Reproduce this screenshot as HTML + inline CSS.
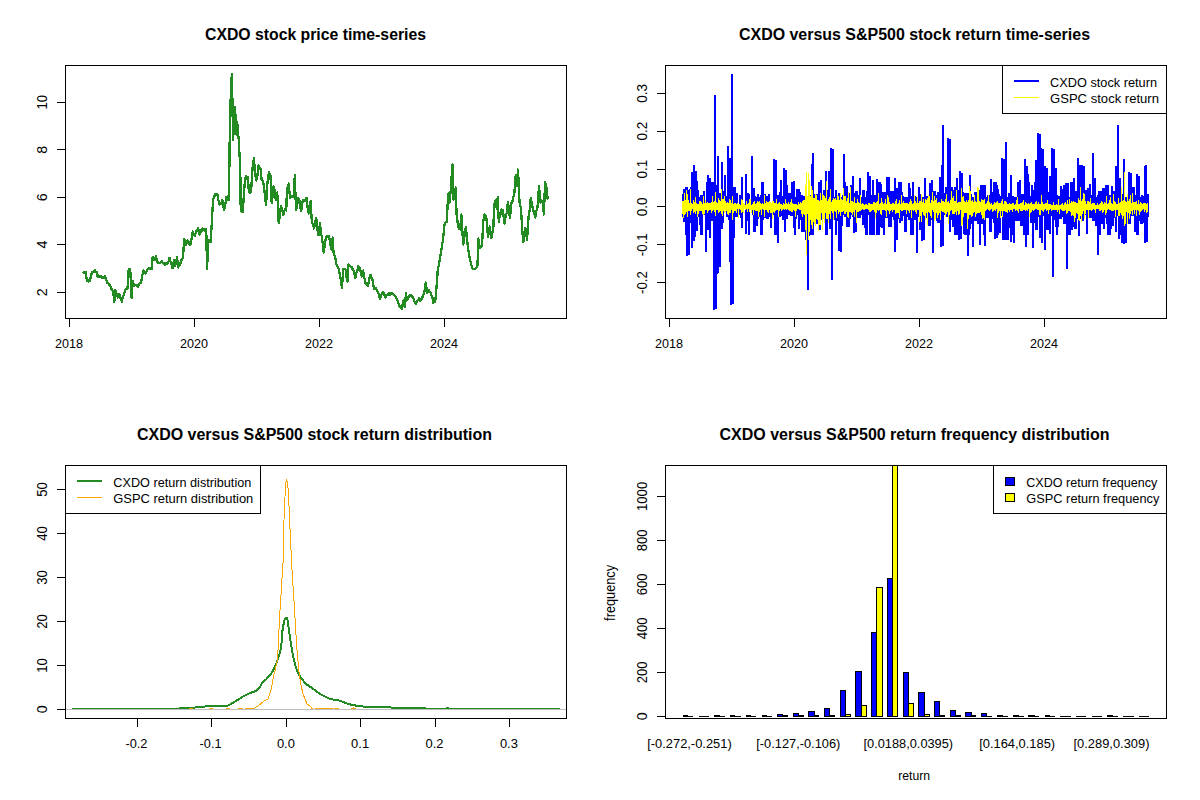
<!DOCTYPE html>
<html><head><meta charset="utf-8"><title>CXDO charts</title>
<style>html,body{margin:0;padding:0;background:#fff;overflow:hidden;}svg{display:block;}text{font-family:"Liberation Sans", sans-serif;}</style></head>
<body>
<svg width="1200" height="800" viewBox="0 0 1200 800" font-family='"Liberation Sans", sans-serif' fill="#000">
<rect width="1200" height="800" fill="#fff"/>
<g>
<rect x="65.5" y="65.5" width="501.0" height="253.0" fill="none" stroke="#000" stroke-width="1" shape-rendering="crispEdges"/>
<text x="315.5" y="39.5" font-size="16" text-anchor="middle" font-weight="bold" textLength="221" lengthAdjust="spacingAndGlyphs">CXDO stock price time-series</text>
<line x1="69" y1="318.5" x2="445" y2="318.5" stroke="#000" stroke-width="1" shape-rendering="crispEdges"/>
<line x1="69.5" y1="318.5" x2="69.5" y2="326.5" stroke="#000" stroke-width="1" shape-rendering="crispEdges"/>
<text x="69" y="348" font-size="13.6" text-anchor="middle" textLength="28" lengthAdjust="spacingAndGlyphs">2018</text>
<line x1="194.5" y1="318.5" x2="194.5" y2="326.5" stroke="#000" stroke-width="1" shape-rendering="crispEdges"/>
<text x="194" y="348" font-size="13.6" text-anchor="middle" textLength="28" lengthAdjust="spacingAndGlyphs">2020</text>
<line x1="319.5" y1="318.5" x2="319.5" y2="326.5" stroke="#000" stroke-width="1" shape-rendering="crispEdges"/>
<text x="319" y="348" font-size="13.6" text-anchor="middle" textLength="28" lengthAdjust="spacingAndGlyphs">2022</text>
<line x1="444.5" y1="318.5" x2="444.5" y2="326.5" stroke="#000" stroke-width="1" shape-rendering="crispEdges"/>
<text x="444" y="348" font-size="13.6" text-anchor="middle" textLength="28" lengthAdjust="spacingAndGlyphs">2024</text>
<line x1="56.9" y1="292.2" x2="65.5" y2="292.2" stroke="#000" stroke-width="1" shape-rendering="crispEdges"/>
<text transform="translate(47.3,292.2) rotate(-90)" font-size="14.3" text-anchor="middle">2</text>
<line x1="56.9" y1="244.5" x2="65.5" y2="244.5" stroke="#000" stroke-width="1" shape-rendering="crispEdges"/>
<text transform="translate(47.3,244.5) rotate(-90)" font-size="14.3" text-anchor="middle">4</text>
<line x1="56.9" y1="197.3" x2="65.5" y2="197.3" stroke="#000" stroke-width="1" shape-rendering="crispEdges"/>
<text transform="translate(47.3,197.3) rotate(-90)" font-size="14.3" text-anchor="middle">6</text>
<line x1="56.9" y1="149.8" x2="65.5" y2="149.8" stroke="#000" stroke-width="1" shape-rendering="crispEdges"/>
<text transform="translate(47.3,149.8) rotate(-90)" font-size="14.3" text-anchor="middle">8</text>
<line x1="56.9" y1="102.2" x2="65.5" y2="102.2" stroke="#000" stroke-width="1" shape-rendering="crispEdges"/>
<text transform="translate(47.3,102.2) rotate(-90)" font-size="14.3" text-anchor="middle" textLength="14.56" lengthAdjust="spacingAndGlyphs">10</text>
<path d="M82.5 271.7 L83.4 271.92 L84.3 273.2 L85.5 272 L87 281 L88 279.95 L89 281.45 L90 281 L91.12 275.22 L92.25 272 L93.15 272.05 L94.05 271.48 L94.95 270.49 L95.85 271.78 L96.75 271.7 L97.5 276.5 L98.4 275.41 L99.3 276.9 L100.2 276.11 L101.1 276.47 L102 278 L103 277.27 L104 277.98 L105 276.5 L106.12 278.75 L107.25 283.25 L108.25 283.17 L109.25 285.13 L110.25 285.5 L111.25 288.84 L112.25 289.73 L113.25 291.5 L114.3 302 L115.5 290 L116.62 293.44 L117.75 297.5 L119.25 293.75 L120.1 297.93 L120.95 297.89 L121.8 302 L123 296 L124.12 294.08 L125.25 290 L126.38 288.62 L127.5 288.5 L128.7 269 L130.2 269 L131.7 298.25 L132.75 281 L134.25 286.25 L135.15 285.03 L136.05 284.8 L136.95 285.23 L137.85 286.6 L138.75 285.5 L139.88 283.04 L141 282.5 L142.12 276.74 L143.25 270.5 L144.38 272.42 L145.5 273.5 L146.62 270.87 L147.75 269 L148.69 269.14 L149.62 267.69 L150.56 267.68 L151.5 269 L152.7 257 L153.6 257.62 L154.5 260 L156 256.25 L157.2 262.25 L158.05 263.04 L158.9 262.53 L159.75 263 L160.88 261.69 L162 261.5 L163 262.76 L164 263.36 L165 264.5 L166 263.4 L167 264.38 L168 263 L169.5 257.75 L170.5 261.85 L171.5 263.98 L172.5 268.25 L174 260 L175.2 266 L176.1 261.72 L177 257 L178.2 267.5 L179.02 265.7 L179.85 264.88 L180.68 262.56 L181.5 260 L183 257.75 L184.2 239 L185.7 245 L186.6 242.11 L187.5 240.5 L188.5 243.44 L189.5 242.35 L190.5 245 L191.62 238 L192.75 231.5 L193.88 235.29 L195 236 L196 231.41 L197 230.93 L198 228.5 L199.5 234.5 L200.5 229.74 L201.5 231.51 L202.5 228.5 L203.44 230.27 L204.38 229.31 L205.31 231.32 L206.25 229.25 L207 269 L208.5 240.5 L209.62 240.69 L210.75 242 L212 218 L213.2 198.5 L214.1 197.42 L215 194 L216.12 194.57 L217.25 194 L218.38 199.73 L219.5 204.5 L220.5 202.74 L221.5 203.54 L222.5 200 L224 209.75 L225.12 206.04 L226.25 197 L227.38 198.34 L228.5 200 L229.25 175.25 L229.8 132.5 L230.6 100 L231.8 74 L232.4 100 L233 140 L233.6 118 L234.8 107 L235.4 134 L236 115 L236.6 135 L237.2 122 L238 131 L238.7 140 L239.3 150.5 L240.2 167 L240.5 185 L240.7 209.75 L241.72 211.86 L242.75 212 L244.25 189.5 L245 179 L246 175.86 L247 179.21 L248 177.5 L248.75 191 L249.88 192.63 L251 192.5 L252.5 168.5 L254 158 L254.75 171.5 L256.25 180.5 L257.38 175.96 L258.5 165.5 L259.62 168.93 L260.75 168.5 L261.5 179 L262.62 180.71 L263.75 185 L264.88 194.44 L266 205.25 L267.5 182 L269 172.25 L270.5 176 L271.7 203 L272.6 195.76 L273.5 186.5 L274.62 190.39 L275.75 200 L277.25 192.5 L278.75 223.25 L279.88 214.4 L281 206 L282.12 208.51 L283.25 215 L284.25 211.2 L285.25 209.35 L286.25 210.5 L287 188 L287.9 187.36 L288.8 183.5 L290 198.5 L290.94 195.9 L291.88 196.24 L292.81 196.72 L293.75 197 L294.8 175.25 L296 209.75 L297.12 205.98 L298.25 197.75 L299.25 199.73 L300.25 206.45 L301.25 211.25 L302.75 200 L303.69 199.73 L304.62 201.18 L305.56 200.23 L306.5 197.75 L307.62 207.81 L308.75 213.5 L309.73 205.8 L310.7 200.75 L311.75 221 L312.88 224.24 L314 228.5 L315.12 222.4 L316.25 218 L317.38 228.93 L318.5 235.25 L320 223.25 L320.94 233.31 L321.88 236.83 L322.81 244.22 L323.75 252.5 L324.88 244.2 L326 237.5 L327 236.2 L328 236.45 L329 236 L330.12 243.02 L331.25 249.5 L332.75 237.5 L333.5 252.5 L334.5 255.79 L335.5 259.01 L336.5 264.5 L337.62 266.51 L338.75 269 L340.25 276.5 L341.12 281.73 L342 287.75 L343.25 269 L344.38 269.2 L345.5 269 L346.5 276.73 L347.5 281.75 L348.2 264.5 L349.02 265.63 L349.85 265.67 L350.68 266.54 L351.5 266.75 L352.62 269.15 L353.75 270.5 L355.25 278 L356.25 272.66 L357.25 271.2 L358.25 266 L359.75 267.5 L360.88 272.84 L362 276.5 L363.2 270.5 L364.05 276.12 L364.9 280.39 L365.75 284 L366.88 284.43 L368 285.5 L369 279.95 L370 275 L370.83 275.31 L371.67 278.4 L372.5 279.5 L374 288.5 L375 287.69 L376 288.2 L377 290 L378 292.13 L379 294.99 L380 299 L381 296.27 L382 293.16 L383 292.25 L384.12 293.38 L385.25 297.5 L386.12 295.7 L387 294.8 L387.88 294.84 L388.75 293.08 L389.62 294.87 L390.5 293 L391.4 293.94 L392.3 293.15 L393.2 294.06 L394.1 294.94 L395 296 L396 297.59 L397 298.87 L398 302 L398.94 304.73 L399.88 306.85 L400.81 306.96 L401.75 308.75 L403.25 300.5 L404.75 307.25 L406 293 L407 300.5 L408 298.7 L409 295.76 L410 295.25 L410.94 294.99 L411.88 296.65 L412.81 297.36 L413.75 299 L414.88 302.24 L416 303.5 L417.12 300.61 L418.25 299.75 L419.19 298.13 L420.12 300.73 L421.06 299.27 L422 299 L423.12 294.94 L424.25 293 L425.75 282.5 L427.25 293 L428.75 290 L429.69 292 L430.62 292.33 L431.56 295.71 L432.5 297.5 L433.25 302.75 L434.38 302.31 L435.5 299 L437 281 L437.75 270 L438.88 265.09 L440 258 L441 252.59 L442 245.28 L443 240 L444.5 225 L445.62 222.7 L446.75 222 L448.25 193.5 L449.75 202.5 L451.25 183 L452.45 164.25 L453.5 199.5 L454.62 191.5 L455.75 187.5 L456.5 213 L457.62 222.51 L458.75 228.75 L460.25 229.5 L461.3 214.5 L462.27 229.7 L463.25 244.5 L464.1 239.59 L464.95 231.98 L465.8 227.25 L466.77 235.79 L467.75 246 L468.88 253.68 L470 259.5 L471.5 265.5 L472.5 268.2 L473.5 269.06 L474.5 269.25 L475.5 268.92 L476.5 267.7 L477.5 265.5 L478.25 238.5 L479.75 247.5 L480.88 247.47 L482 246 L483.2 222 L484.25 214.5 L485.38 215.11 L486.5 219 L488 237 L488.9 231.86 L489.8 226.5 L491.3 237.75 L492.27 232.76 L493.25 229.5 L494.3 204 L495.5 200.25 L496.7 208.5 L497.75 197.25 L498.8 222 L499.77 215.42 L500.75 214.5 L501.65 209.42 L502.55 210 L503.52 215.43 L504.5 223.5 L505.62 216.81 L506.75 213 L507.95 201.75 L509 211.16 L510.05 218.25 L511.25 202.5 L512.25 202.74 L513.25 197.18 L514.25 195 L515.75 174.75 L516.8 186 L518 169.5 L519.5 202.5 L521 208.5 L522.12 228 L523.25 242.25 L524.38 236.59 L525.5 228 L527 240 L528.5 217.5 L529.62 210.48 L530.75 198 L531.88 203.19 L533 210 L534.12 212.07 L535.25 217.5 L536.38 210.61 L537.5 207 L539 186 L540.5 202.5 L541.62 200.31 L542.75 201.75 L543.95 214.5 L545 182.25 L546.5 187.5 L547.7 199.5" fill="none" stroke="#228B22" stroke-width="2.3" stroke-linejoin="round" shape-rendering="crispEdges"/>
</g>
<g>
<text x="914.5" y="39.5" font-size="16" text-anchor="middle" font-weight="bold" textLength="351" lengthAdjust="spacingAndGlyphs">CXDO versus S&amp;P500 stock return time-series</text>
<line x1="669" y1="318.5" x2="1045" y2="318.5" stroke="#000" stroke-width="1" shape-rendering="crispEdges"/>
<line x1="669.5" y1="318.5" x2="669.5" y2="326.5" stroke="#000" stroke-width="1" shape-rendering="crispEdges"/>
<text x="669" y="348" font-size="13.6" text-anchor="middle" textLength="28" lengthAdjust="spacingAndGlyphs">2018</text>
<line x1="794.5" y1="318.5" x2="794.5" y2="326.5" stroke="#000" stroke-width="1" shape-rendering="crispEdges"/>
<text x="794" y="348" font-size="13.6" text-anchor="middle" textLength="28" lengthAdjust="spacingAndGlyphs">2020</text>
<line x1="919.5" y1="318.5" x2="919.5" y2="326.5" stroke="#000" stroke-width="1" shape-rendering="crispEdges"/>
<text x="919" y="348" font-size="13.6" text-anchor="middle" textLength="28" lengthAdjust="spacingAndGlyphs">2022</text>
<line x1="1044.5" y1="318.5" x2="1044.5" y2="326.5" stroke="#000" stroke-width="1" shape-rendering="crispEdges"/>
<text x="1044" y="348" font-size="13.6" text-anchor="middle" textLength="28" lengthAdjust="spacingAndGlyphs">2024</text>
<line x1="656.9" y1="93.4" x2="665.5" y2="93.4" stroke="#000" stroke-width="1" shape-rendering="crispEdges"/>
<text transform="translate(647.3,93.4) rotate(-90)" font-size="14.3" text-anchor="middle" textLength="18.72" lengthAdjust="spacingAndGlyphs">0.3</text>
<line x1="656.9" y1="131.2" x2="665.5" y2="131.2" stroke="#000" stroke-width="1" shape-rendering="crispEdges"/>
<text transform="translate(647.3,131.2) rotate(-90)" font-size="14.3" text-anchor="middle" textLength="18.72" lengthAdjust="spacingAndGlyphs">0.2</text>
<line x1="656.9" y1="169.1" x2="665.5" y2="169.1" stroke="#000" stroke-width="1" shape-rendering="crispEdges"/>
<text transform="translate(647.3,169.1) rotate(-90)" font-size="14.3" text-anchor="middle" textLength="18.72" lengthAdjust="spacingAndGlyphs">0.1</text>
<line x1="656.9" y1="206.9" x2="665.5" y2="206.9" stroke="#000" stroke-width="1" shape-rendering="crispEdges"/>
<text transform="translate(647.3,206.9) rotate(-90)" font-size="14.3" text-anchor="middle" textLength="18.72" lengthAdjust="spacingAndGlyphs">0.0</text>
<line x1="656.9" y1="244.7" x2="665.5" y2="244.7" stroke="#000" stroke-width="1" shape-rendering="crispEdges"/>
<text transform="translate(647.3,244.7) rotate(-90)" font-size="14.3" text-anchor="middle" textLength="22.88" lengthAdjust="spacingAndGlyphs">-0.1</text>
<line x1="656.9" y1="282.5" x2="665.5" y2="282.5" stroke="#000" stroke-width="1" shape-rendering="crispEdges"/>
<text transform="translate(647.3,282.5) rotate(-90)" font-size="14.3" text-anchor="middle" textLength="22.88" lengthAdjust="spacingAndGlyphs">-0.2</text>
<path d="M682.5 194.43V217.42M683.5 189.14V222M684.5 189.14V220.42M685.5 186.6V234.9M686.5 186.6V256M687.5 190.17V224.19M688.5 190.17V255M689.5 189.3V222.85M690.5 186.58V215.68M691.5 172V248M692.5 204.91V207.52M693.5 165V241M694.5 205.12V237M695.5 171V230.01M696.5 181V231M697.5 190.4V215.99M698.5 196.99V217M699.5 196.99V224.79M700.5 195.13V234.9M701.5 195.13V234.9M702.5 195.13V214.9M703.5 191.28V214.9M704.5 205.82V208.96M705.5 205.56V252M706.5 181.9V230.37M707.5 175V230.37M708.5 190.01V217.19M709.5 178V238M710.5 193.14V216.93M711.5 181.9V220.81M712.5 181.9V215.82M713.5 206.39V309.5M714.5 95V208.29M715.5 184.93V309M716.5 193.82V274M717.5 156V273M718.5 192.68V215.61M719.5 192.68V267M720.5 192.68V214.91M721.5 162V229M722.5 191.17V223.2M723.5 205.15V208.59M724.5 175V209.74M725.5 205.91V207.77M726.5 195.84V217.22M727.5 146V217.22M728.5 196.05V219.5M729.5 158V262M730.5 189.31V304.5M731.5 74V215.74M732.5 186.56V304M733.5 187.14V238M734.5 187.14V216.6M735.5 193.46V216.6M736.5 193.46V216.92M737.5 204.76V209.63M738.5 205.21V208.85M739.5 194.94V214.91M740.5 196.77V217.77M741.5 177V228M742.5 204.59V207.51M743.5 205.34V208.41M744.5 205.92V207.55M745.5 174V234M746.5 193.06V220.06M747.5 193.06V221.23M748.5 193.74V234.9M749.5 206V208.92M750.5 205.39V209M751.5 156V207.84M752.5 193.75V215.08M753.5 187.74V232.19M754.5 196.11V232.19M755.5 197.21V219.26M756.5 197.21V226M757.5 194.21V219.26M758.5 197.27V216.97M759.5 197.27V216.97M760.5 194.76V234.9M761.5 181.9V234.9M762.5 181.9V220.33M763.5 194.17V218.2M764.5 194.17V218.2M765.5 195.94V218.2M766.5 195.94V218.5M767.5 195.94V218.5M768.5 193.97V216.67M769.5 205.09V207.84M770.5 204.41V228M771.5 205.11V207.71M772.5 204.62V209.71M773.5 159V215.46M774.5 185.87V234.9M775.5 160V234.9M776.5 194.97V226.51M777.5 194.77V243M778.5 194.77V217M779.5 192.4V217.36M780.5 180V215.82M781.5 197.06V215.82M782.5 195.78V220.38M783.5 168V220.38M784.5 195.78V232M785.5 170V219.22M786.5 184.78V219.22M787.5 192.54V215.36M788.5 192.54V215.36M789.5 192.54V215.36M790.5 196.09V216.17M791.5 181.97V216.17M792.5 191.22V215.35M793.5 181V228M794.5 196.6V234.9M795.5 196.6V219.19M796.5 189.36V215.4M797.5 189.36V215.4M798.5 189.36V229M799.5 191.89V219.68M800.5 195.07V219.68M801.5 195.07V232.1M802.5 196.42V232.1M803.5 196.42V232.1M804.5 196.96V215.86M805.5 196.96V240M806.5 197.31V215.86M807.5 197.31V290M808.5 194.64V236M809.5 194.64V216.59M810.5 197.32V234.9M811.5 164V234.9M812.5 153V234.9M813.5 194.12V219.94M814.5 194.12V219.94M815.5 194.17V219.94M816.5 194.17V223.64M817.5 196.86V223.64M818.5 181.9V229.52M819.5 197V229.52M820.5 180V219.57M821.5 197.22V219.57M822.5 195.98V214.92M823.5 189.69V215.57M824.5 189.71V215.57M825.5 171V234.9M826.5 189.71V234.9M827.5 195.06V221.49M828.5 171V218.73M829.5 186.08V228.71M830.5 148V228.71M831.5 194.33V280M832.5 149V215.63M833.5 196.98V220.03M834.5 196.98V220.03M835.5 190.17V235M836.5 194.91V221.14M837.5 195.99V221.14M838.5 192.87V251M839.5 197.01V216.62M840.5 197.01V252M841.5 197.09V225.59M842.5 194.68V215.15M843.5 154V215.15M844.5 181.9V217.18M845.5 185.64V217.18M846.5 185.64V227M847.5 193.03V226.54M848.5 193.03V226.54M849.5 194.03V218.67M850.5 184.88V215.42M851.5 196.03V215.42M852.5 176V217.28M853.5 192.94V233M854.5 192.94V215.42M855.5 190.99V232M856.5 190.99V218.21M857.5 194.74V218.21M858.5 194.74V218.16M859.5 178V218.16M860.5 196.52V215.26M861.5 196.52V215.26M862.5 190.07V224.99M863.5 190.07V224.99M864.5 197.23V228M865.5 197.23V234.9M866.5 191.46V234.9M867.5 172V214.93M868.5 181.9V214.93M869.5 176V234.76M870.5 194.5V234.76M871.5 196.89V234.9M872.5 180V234.9M873.5 194.85V234.9M874.5 194.85V215.1M875.5 194.85V215.81M876.5 179V234.9M877.5 193.85V234.9M878.5 181.9V235M879.5 181.9V227.38M880.5 184V227.38M881.5 192.16V228.39M882.5 195.51V228.39M883.5 191.53V234.9M884.5 191.53V214.97M885.5 191.53V217.79M886.5 177V217.79M887.5 181.9V217.79M888.5 177V226.76M889.5 197.34V226.76M890.5 191.32V226.76M891.5 191.32V217.05M892.5 191.32V217.05M893.5 194.86V219.84M894.5 178V252M895.5 197V215.56M896.5 188.2V240M897.5 188.2V218.88M898.5 181.9V217.17M899.5 181.9V223.29M900.5 181.9V221.33M901.5 192V221.33M902.5 196.15V216.3M903.5 197.19V216.3M904.5 197.19V232.1M905.5 196.63V232.1M906.5 197.38V217.36M907.5 197.38V216.77M908.5 182.71V220.42M909.5 188V220.42M910.5 195.64V234.9M911.5 195.64V234M912.5 182.23V234.9M913.5 196.29V217.03M914.5 196.29V219.84M915.5 197.4V219.84M916.5 197.01V253M917.5 197.01V217.04M918.5 187V217.04M919.5 194.26V229.92M920.5 196.12V229.92M921.5 196.97V241M922.5 196.7V226.3M923.5 197.21V240M924.5 178V217.68M925.5 195.8V217.68M926.5 196.21V217.39M927.5 196.21V217.39M928.5 196.21V225.62M929.5 183.17V225.62M930.5 183.17V219.53M931.5 180V217.15M932.5 190.5V253M933.5 190.5V216.57M934.5 190.5V216.57M935.5 195.18V218.93M936.5 195.18V220.56M937.5 191.66V223.29M938.5 191.66V223.37M939.5 177V215.76M940.5 196.67V247M941.5 165V232.05M942.5 125V246M943.5 193.06V215.23M944.5 197.2V215.23M945.5 187.39V217.02M946.5 187.39V217.02M947.5 138V216.58M948.5 194.88V216.63M949.5 139V232M950.5 194.88V218.62M951.5 187V219.67M952.5 189.87V226.83M953.5 189.87V226.83M954.5 186.57V234.9M955.5 193.62V234.9M956.5 178V234.9M957.5 189.52V223.02M958.5 190.2V240M959.5 171V222.64M960.5 192.23V239M961.5 173V215.21M962.5 192.23V216.12M963.5 192.77V234M964.5 192.77V234.9M965.5 192.77V222.22M966.5 197.26V234.52M967.5 192.84V256M968.5 195.27V234.52M969.5 175V228.57M970.5 193.72V223.97M971.5 197.31V223.97M972.5 197.31V247M973.5 197.31V216.72M974.5 192.26V221.25M975.5 192.26V221.25M976.5 196.02V219.1M977.5 196.02V223.63M978.5 190.21V223.63M979.5 190.21V245M980.5 185V223.37M981.5 185.27V224.41M982.5 185.27V224.41M983.5 196.97V234.9M984.5 185V246M985.5 197.09V217.84M986.5 197.09V217.84M987.5 194.51V217.84M988.5 194.51V217.9M989.5 194.51V232.11M990.5 179V232.11M991.5 191.52V219.21M992.5 196.22V219.21M993.5 181.9V223.17M994.5 181.9V239M995.5 181.9V225.32M996.5 185V238M997.5 189V234.9M998.5 194.47V233.45M999.5 195.88V233.45M1000.5 195.88V215.86M1001.5 158V215.86M1002.5 193.08V240M1003.5 159V219.84M1004.5 196.41V240M1005.5 142V240M1006.5 196.68V221.32M1007.5 196.68V240M1008.5 192.66V228.04M1009.5 192.66V228.04M1010.5 175V242M1011.5 195.77V215.65M1012.5 195.77V234.9M1013.5 196.76V243M1014.5 196.76V220.52M1015.5 197.12V220.52M1016.5 197.12V220.52M1017.5 181.9V218.32M1018.5 181.9V220.79M1019.5 180V215.82M1020.5 194.37V226.1M1021.5 194.37V226.1M1022.5 194.37V217.77M1023.5 194.13V234.9M1024.5 159V217.92M1025.5 194.13V247M1026.5 166V234.9M1027.5 174V234.9M1028.5 181.9V215.62M1029.5 196.4V215.62M1030.5 196.4V222.65M1031.5 185.01V222.65M1032.5 195.86V248M1033.5 189.69V223.08M1034.5 181.9V222.66M1035.5 160V229.88M1036.5 196.34V229.88M1037.5 133V216.52M1038.5 197.05V216.52M1039.5 134V238M1040.5 148V216.26M1041.5 196.03V243M1042.5 149V215.95M1043.5 196.76V215.95M1044.5 166V250M1045.5 194.2V215.24M1046.5 168V229.69M1047.5 191.93V229.69M1048.5 194.3V215.21M1049.5 176V234M1050.5 195.15V215.21M1051.5 148V215.9M1052.5 192.25V277M1053.5 149V219.77M1054.5 195.78V219.77M1055.5 168V226.94M1056.5 194.98V235M1057.5 195.69V226.94M1058.5 195.69V219.26M1059.5 197.39V219.26M1060.5 186V219.26M1061.5 189.18V217.19M1062.5 189.18V217.19M1063.5 184.75V223.5M1064.5 191.78V223.5M1065.5 183V220.5M1066.5 195.86V269M1067.5 183V215.09M1068.5 197.1V234.9M1069.5 197.1V234.9M1070.5 181.9V217.05M1071.5 181.9V230M1072.5 197.04V227.01M1073.5 178V227.01M1074.5 191.06V229.39M1075.5 191.06V229.39M1076.5 195.92V218.99M1077.5 158V218.99M1078.5 192.87V236M1079.5 165V218.54M1080.5 196.11V218.54M1081.5 165V220.51M1082.5 194.82V220.51M1083.5 166V215.23M1084.5 196.45V215.23M1085.5 190.48V215.23M1086.5 190.48V234M1087.5 187.7V216.02M1088.5 187.7V216.02M1089.5 184V217.91M1090.5 195.1V217.91M1091.5 195.1V217.91M1092.5 153V220.63M1093.5 193.81V220.63M1094.5 178V220.63M1095.5 197.02V226.06M1096.5 197.02V223.36M1097.5 195.02V255M1098.5 191V215.11M1099.5 195.02V234.9M1100.5 191.11V224.34M1101.5 191.11V224.34M1102.5 188.24V224.34M1103.5 188.24V229M1104.5 188.24V217.62M1105.5 185V217.62M1106.5 197.17V224.17M1107.5 185V234.9M1108.5 196.79V228M1109.5 194.99V234.9M1110.5 194.99V229.22M1111.5 186V226.19M1112.5 195.81V226.19M1113.5 191.36V218.03M1114.5 191.36V217.47M1115.5 166V232M1116.5 196.04V216.14M1117.5 125V216.14M1118.5 196.04V239M1119.5 178V234.9M1120.5 196.17V216.77M1121.5 196.17V243M1122.5 193.73V222.55M1123.5 159V244M1124.5 196.83V217.97M1125.5 196.83V243M1126.5 196.61V216.31M1127.5 196.61V216.31M1128.5 172V224.01M1129.5 194.28V224.01M1130.5 173V216.38M1131.5 193.8V216.38M1132.5 186.75V215.88M1133.5 186.75V215.88M1134.5 194.89V232M1135.5 194.89V215.3M1136.5 174V234.9M1137.5 196.44V234.9M1138.5 176V221.38M1139.5 196.97V221.38M1140.5 196.97V224.24M1141.5 195.33V224.24M1142.5 196.38V217.22M1143.5 196.38V222.85M1144.5 166V243M1145.5 165V225.61M1146.5 195.23V242M1147.5 194.06V217.36" fill="none" stroke="#0000FF" stroke-width="2" shape-rendering="crispEdges"/>
<path d="M682.5 201.08V214.42M683.5 201.34V217.97M684.5 193.22V215.29M685.5 200.21V214.08M686.5 189.6V212.09M687.5 193.8V217.46M688.5 200.12V211.26M689.5 202.85V211.3M690.5 189.37V215.34M691.5 203.16V211.07M692.5 204.27V209.48M693.5 200.09V212.57M694.5 202.44V212.17M695.5 197.23V214.38M696.5 203.07V210.56M697.5 204.08V217.44M698.5 203.6V214.09M699.5 201.45V211.41M700.5 200.78V210.96M701.5 202.24V211.2M702.5 203.88V213.77M703.5 195.6V215.06M704.5 202.92V213.89M705.5 199.95V209.76M706.5 202.64V209.68M707.5 202.17V212.67M708.5 203.25V211.17M709.5 202.67V210.19M710.5 203.4V209.64M711.5 201.76V213.3M712.5 196V211.49M713.5 202.1V209.97M714.5 201.1V212.3M715.5 192.47V216.2M716.5 201.64V210.13M717.5 202.65V210.25M718.5 198.08V212.63M719.5 199.86V211.94M720.5 200.82V210.92M721.5 189.45V214.49M722.5 199.29V215.6M723.5 199.28V210.91M724.5 195.98V212.63M725.5 200.67V211.68M726.5 202.91V210.78M727.5 202.32V213.51M728.5 202.68V214.64M729.5 198.72V212.74M730.5 200.17V212.58M731.5 203.42V210.01M732.5 195.92V219.51M733.5 203.6V212.63M734.5 203.48V210.89M735.5 202.6V211.09M736.5 204.09V213.26M737.5 203.08V209.35M738.5 203.77V218.41M739.5 203.79V209.3M740.5 204.55V209.83M741.5 199.45V212.57M742.5 200.45V211.68M743.5 202.53V213.37M744.5 204.3V209.39M745.5 204.69V209.84M746.5 201.03V209.37M747.5 203.59V211.72M748.5 202.93V209.4M749.5 198.92V211.61M750.5 199.14V210.33M751.5 204.7V212.55M752.5 204.05V209.66M753.5 202.17V215.15M754.5 200.75V210.44M755.5 203.95V210.79M756.5 202.89V210.79M757.5 200.54V211.28M758.5 202.06V217.21M759.5 200.62V212.23M760.5 203.08V209.68M761.5 204.24V215.08M762.5 202.83V209.41M763.5 204.12V209.95M764.5 195.21V217.32M765.5 203.13V209.7M766.5 200.8V209.84M767.5 202.21V212.14M768.5 201.99V213.35M769.5 201.19V210.37M770.5 201.61V213.36M771.5 202.74V213.27M772.5 201.42V218.78M773.5 200.77V211.67M774.5 202.62V212.99M775.5 203.43V211.03M776.5 199.23V209.74M777.5 203.71V210.36M778.5 203.34V216.5M779.5 202.25V210.69M780.5 203.97V209.47M781.5 203.92V211.1M782.5 204.53V209.95M783.5 202.52V209.19M784.5 203.68V210.46M785.5 198.67V209.01M786.5 202.86V209.7M787.5 203.65V209.36M788.5 202.2V209.5M789.5 204.11V210.66M790.5 202.34V211.09M791.5 199.43V211.87M792.5 202.56V212.13M793.5 204.04V210.25M794.5 203.76V210.64M795.5 203.64V216.69M796.5 203.9V211.03M797.5 204.78V209.06M798.5 201.89V209.13M799.5 204.45V210.3M800.5 202.33V210.29M801.5 203.34V213.62M802.5 201.36V217.39M803.5 200V214.27M804.5 199.83V214.51M805.5 185V230M806.5 171.5V254.7M807.5 195.7V214.17M808.5 173V240M809.5 180V232M810.5 196.23V220.09M811.5 186V225M812.5 190V228.9M813.5 197.88V222.02M814.5 198.08V223.85M815.5 193.67V226.01M816.5 194.64V219.02M817.5 199.89V219.65M818.5 200.11V230.94M819.5 201.27V224.97M820.5 193.27V225.27M821.5 199.52V213.15M822.5 193.88V229.5M823.5 195.36V218.8M824.5 195.92V222.79M825.5 197.89V213.07M826.5 181.45V218.58M827.5 201.25V219.23M828.5 199.1V222.74M829.5 197.43V214.25M830.5 188.52V218.84M831.5 201.96V211.36M832.5 200.09V212.8M833.5 198.01V220.36M834.5 199.48V210.8M835.5 197.58V212.02M836.5 199.61V218.02M837.5 195.32V210.42M838.5 195.85V214.46M839.5 199.95V212.17M840.5 192.72V216.43M841.5 199.45V212.16M842.5 199.73V212.02M843.5 188.49V211.47M844.5 195.51V213.98M845.5 196.35V213.57M846.5 201.25V212.22M847.5 197.65V216.54M848.5 192.24V217.89M849.5 202.8V211.63M850.5 187.04V212.39M851.5 201.2V212.53M852.5 200.74V215.29M853.5 201.92V211.6M854.5 196.96V217.2M855.5 202.91V210.33M856.5 202.76V223.47M857.5 199.45V212.07M858.5 201.83V212M859.5 202.67V210.69M860.5 194.77V210.5M861.5 204.43V210.32M862.5 202.86V209.17M863.5 204.17V210.11M864.5 204.94V209.54M865.5 203.87V209.25M866.5 203.72V209.27M867.5 204.6V208.97M868.5 203.42V209.67M869.5 202.5V212.01M870.5 203.77V212.3M871.5 203.51V210.64M872.5 204.3V210.2M873.5 202.01V209.74M874.5 202.06V211.87M875.5 203.05V218.02M876.5 202.14V212.57M877.5 201.03V210.37M878.5 192.6V211.46M879.5 203.98V209.84M880.5 202.7V214.02M881.5 198.02V215.07M882.5 201.62V209.58M883.5 204V209.58M884.5 202.71V209.9M885.5 199.12V210.88M886.5 203.65V217.17M887.5 195.17V210.17M888.5 196.67V210.71M889.5 202.01V213.54M890.5 203.76V210.8M891.5 204.33V209.99M892.5 202.97V211.97M893.5 203.29V210.15M894.5 203.79V210.21M895.5 201.14V214.35M896.5 198.82V213.06M897.5 204.2V213.07M898.5 203.19V212.83M899.5 200.33V217.74M900.5 203.99V209.97M901.5 194.88V210.62M902.5 203.04V210.63M903.5 200.59V210.19M904.5 203.32V209.59M905.5 203.2V210.01M906.5 203.27V213.85M907.5 203.38V209.93M908.5 204.04V211.04M909.5 202.01V213.1M910.5 199.38V209.98M911.5 200.86V218.16M912.5 203.84V209.96M913.5 203.25V210.65M914.5 194.62V209.99M915.5 200.84V211.66M916.5 202.71V213.59M917.5 197.01V210.4M918.5 203.03V210.28M919.5 200.97V221.53M920.5 201.42V215.89M921.5 193.94V221.95M922.5 201.58V212.01M923.5 198.67V214.66M924.5 202.87V215.8M925.5 199.22V219.64M926.5 199.97V213.34M927.5 197.56V225.27M928.5 194.59V212.47M929.5 195.91V213.48M930.5 202.81V215.81M931.5 200.09V217.8M932.5 192.16V210.43M933.5 201.14V212M934.5 195.51V220.68M935.5 199.89V219.38M936.5 198.07V212.94M937.5 202.83V217.62M938.5 202.31V215.34M939.5 201.62V213.08M940.5 203.2V220.23M941.5 198.75V211.41M942.5 200.71V211.72M943.5 201.38V211.88M944.5 201.98V212.99M945.5 199.45V216.58M946.5 193.6V214.31M947.5 201.52V212.28M948.5 200.69V223.55M949.5 203.06V214.61M950.5 199.7V210.73M951.5 191.45V210.47M952.5 197.57V214.36M953.5 196.42V213.6M954.5 200.8V214.29M955.5 201.27V211.55M956.5 190V215.23M957.5 203.17V211.02M958.5 202.14V215.21M959.5 201.56V213.52M960.5 201.5V210.41M961.5 187.63V226.17M962.5 196.86V225.03M963.5 196.45V217.42M964.5 201.27V212.66M965.5 201.95V213.2M966.5 199.52V212.94M967.5 201.53V229.38M968.5 200.44V218.59M969.5 186.38V215.42M970.5 191.38V215.1M971.5 201.21V217.14M972.5 199.92V216.49M973.5 201.87V212.92M974.5 194.59V212.03M975.5 200.71V217.14M976.5 201.94V214.34M977.5 187.38V213.29M978.5 188.32V213.12M979.5 200.81V212.63M980.5 202.11V211.51M981.5 198.91V215.48M982.5 199.8V218.52M983.5 200.28V218.35M984.5 199.36V220.1M985.5 203.77V211.08M986.5 202.77V209.78M987.5 200.59V209.48M988.5 194.78V210.35M989.5 202.47V211.34M990.5 204.37V210.3M991.5 203.19V209.31M992.5 204.8V211.68M993.5 204.07V210.99M994.5 201.66V210.18M995.5 202.98V210.82M996.5 201.99V209.4M997.5 201.31V218.05M998.5 202.87V212.79M999.5 203.07V210.5M1000.5 203.39V217.79M1001.5 201.22V210.67M1002.5 198.63V217.46M1003.5 203.61V211.06M1004.5 201V211.48M1005.5 200.79V211.79M1006.5 201.82V212.19M1007.5 203.95V212.84M1008.5 203.92V210.39M1009.5 202.7V211.55M1010.5 204.02V209.88M1011.5 203.65V210.09M1012.5 202.82V211.57M1013.5 202.61V209.04M1014.5 204.83V209.46M1015.5 204.44V210.99M1016.5 199.68V210.34M1017.5 197.15V211.3M1018.5 204.44V212.93M1019.5 203.89V209.07M1020.5 203.36V210.72M1021.5 202.52V211.09M1022.5 202.44V210.54M1023.5 199.9V210.06M1024.5 204.6V209.53M1025.5 201.55V210.94M1026.5 202.52V209.88M1027.5 204.11V211.16M1028.5 202.77V209.45M1029.5 204.01V217.18M1030.5 203.14V213.06M1031.5 201.96V212.08M1032.5 203.87V210.04M1033.5 204.44V211.47M1034.5 204.01V210.17M1035.5 202.45V209.29M1036.5 201.27V209.41M1037.5 204.14V210.2M1038.5 202.03V210.03M1039.5 204.12V215.05M1040.5 203.65V214.68M1041.5 194.97V209.69M1042.5 202.36V210.63M1043.5 203.59V211.72M1044.5 204.25V209.77M1045.5 203.29V209.41M1046.5 203.14V210.55M1047.5 199.68V210.33M1048.5 203.59V213.97M1049.5 203.65V209.63M1050.5 204.16V209.26M1051.5 204.93V211.49M1052.5 204.56V210.2M1053.5 201.98V210.47M1054.5 204.59V209.5M1055.5 204.52V209.75M1056.5 204.45V209.81M1057.5 204.75V211.63M1058.5 199.32V209.9M1059.5 204.65V213.63M1060.5 204.56V208.58M1061.5 203.67V209.82M1062.5 203.09V210.88M1063.5 204.84V211.1M1064.5 202.61V211.09M1065.5 202V209.5M1066.5 204.49V214.21M1067.5 200.13V213.13M1068.5 203.92V210.54M1069.5 198.75V211.48M1070.5 202.57V212.17M1071.5 200.94V215.83M1072.5 202.41V214.91M1073.5 200.55V216.44M1074.5 201.58V222.07M1075.5 202V217.82M1076.5 202.52V213.37M1077.5 202.72V214.06M1078.5 198.34V220.38M1079.5 200.32V220.62M1080.5 187.42V216M1081.5 201.09V222M1082.5 198.9V213.93M1083.5 192.8V211.03M1084.5 194.08V218.81M1085.5 200.5V214.36M1086.5 204.45V210.1M1087.5 201.35V210.14M1088.5 201.16V218.35M1089.5 202.34V209.88M1090.5 198.48V210.37M1091.5 203.78V210.61M1092.5 202.82V210.45M1093.5 203.08V209.23M1094.5 202.66V209.83M1095.5 204.89V212.82M1096.5 204.75V209.03M1097.5 202.95V209.06M1098.5 204.82V209.34M1099.5 204.47V211.18M1100.5 202.95V210.83M1101.5 201.1V209.59M1102.5 201.73V212.5M1103.5 204.05V212.31M1104.5 202.3V209.58M1105.5 203.37V215.32M1106.5 196.45V213.08M1107.5 203.59V209.62M1108.5 203.27V209.26M1109.5 200V209.91M1110.5 197.17V209.7M1111.5 202.98V211.41M1112.5 204.33V210.81M1113.5 194.48V211.35M1114.5 200.74V210.39M1115.5 201.98V216.74M1116.5 203.94V209.97M1117.5 204.46V209.83M1118.5 197.65V215.54M1119.5 202.75V216.18M1120.5 201.91V213.26M1121.5 187.09V214.83M1122.5 201.33V218.73M1123.5 200.45V216.25M1124.5 172V226M1125.5 201.42V224.45M1126.5 201.64V212.45M1127.5 194.05V224.36M1128.5 201.44V213.45M1129.5 198.64V219.45M1130.5 194.73V213.72M1131.5 202.91V210.54M1132.5 193.2V215.44M1133.5 202.35V210.36M1134.5 201.63V214.43M1135.5 202.14V210.13M1136.5 200.52V216.02M1137.5 203.8V209.84M1138.5 199.94V211.4M1139.5 203.89V214.71M1140.5 202.3V211.92M1141.5 202.5V210.89M1142.5 204.16V210.39M1143.5 202.5V209.45M1144.5 203.43V211.95M1145.5 202.9V210.31M1146.5 204.45V212.94M1147.5 202.8V211.55" fill="none" stroke="#FFFF00" stroke-width="1.4" shape-rendering="crispEdges"/>
<rect x="665.5" y="65.5" width="501.0" height="253.0" fill="none" stroke="#000" stroke-width="1" shape-rendering="crispEdges"/>
<rect x="1002.5" y="65.5" width="164" height="48" fill="#fff" stroke="#000" shape-rendering="crispEdges"/>
<line x1="1014" y1="81" x2="1039" y2="81" stroke="#0000FF" stroke-width="2" shape-rendering="crispEdges"/>
<line x1="1014" y1="97.5" x2="1039" y2="97.5" stroke="#FFFF00" stroke-width="1" shape-rendering="crispEdges"/>
<text x="1050" y="86.7" font-size="13.6" text-anchor="start" textLength="107" lengthAdjust="spacingAndGlyphs">CXDO stock return</text>
<text x="1050" y="102.7" font-size="13.6" text-anchor="start" textLength="109" lengthAdjust="spacingAndGlyphs">GSPC stock return</text>
</g>
<g>
<text x="314.5" y="439.5" font-size="16" text-anchor="middle" font-weight="bold" textLength="355" lengthAdjust="spacingAndGlyphs">CXDO versus S&amp;P500 stock return distribution</text>
<rect x="65.5" y="465.5" width="501.0" height="253.0" fill="none" stroke="#000" stroke-width="1" shape-rendering="crispEdges"/>
<line x1="136.9" y1="718.5" x2="509.9" y2="718.5" stroke="#000" stroke-width="1" shape-rendering="crispEdges"/>
<line x1="137.4" y1="718.5" x2="137.4" y2="726.5" stroke="#000" stroke-width="1" shape-rendering="crispEdges"/>
<text x="136.4" y="748" font-size="13.6" text-anchor="middle" textLength="22" lengthAdjust="spacingAndGlyphs">-0.2</text>
<line x1="211.6" y1="718.5" x2="211.6" y2="726.5" stroke="#000" stroke-width="1" shape-rendering="crispEdges"/>
<text x="210.6" y="748" font-size="13.6" text-anchor="middle" textLength="22" lengthAdjust="spacingAndGlyphs">-0.1</text>
<line x1="286.4" y1="718.5" x2="286.4" y2="726.5" stroke="#000" stroke-width="1" shape-rendering="crispEdges"/>
<text x="285.9" y="748" font-size="13.6" text-anchor="middle" textLength="18" lengthAdjust="spacingAndGlyphs">0.0</text>
<line x1="360.6" y1="718.5" x2="360.6" y2="726.5" stroke="#000" stroke-width="1" shape-rendering="crispEdges"/>
<text x="360.1" y="748" font-size="13.6" text-anchor="middle" textLength="18" lengthAdjust="spacingAndGlyphs">0.1</text>
<line x1="435" y1="718.5" x2="435" y2="726.5" stroke="#000" stroke-width="1" shape-rendering="crispEdges"/>
<text x="434.5" y="748" font-size="13.6" text-anchor="middle" textLength="18" lengthAdjust="spacingAndGlyphs">0.2</text>
<line x1="509.4" y1="718.5" x2="509.4" y2="726.5" stroke="#000" stroke-width="1" shape-rendering="crispEdges"/>
<text x="508.9" y="748" font-size="13.6" text-anchor="middle" textLength="18" lengthAdjust="spacingAndGlyphs">0.3</text>
<line x1="56.9" y1="709.4" x2="65.5" y2="709.4" stroke="#000" stroke-width="1" shape-rendering="crispEdges"/>
<text transform="translate(47.3,709.4) rotate(-90)" font-size="14.3" text-anchor="middle">0</text>
<line x1="56.9" y1="665.4" x2="65.5" y2="665.4" stroke="#000" stroke-width="1" shape-rendering="crispEdges"/>
<text transform="translate(47.3,665.4) rotate(-90)" font-size="14.3" text-anchor="middle" textLength="14.56" lengthAdjust="spacingAndGlyphs">10</text>
<line x1="56.9" y1="621.4" x2="65.5" y2="621.4" stroke="#000" stroke-width="1" shape-rendering="crispEdges"/>
<text transform="translate(47.3,621.4) rotate(-90)" font-size="14.3" text-anchor="middle" textLength="14.56" lengthAdjust="spacingAndGlyphs">20</text>
<line x1="56.9" y1="577.4" x2="65.5" y2="577.4" stroke="#000" stroke-width="1" shape-rendering="crispEdges"/>
<text transform="translate(47.3,577.4) rotate(-90)" font-size="14.3" text-anchor="middle" textLength="14.56" lengthAdjust="spacingAndGlyphs">30</text>
<line x1="56.9" y1="533.4" x2="65.5" y2="533.4" stroke="#000" stroke-width="1" shape-rendering="crispEdges"/>
<text transform="translate(47.3,533.4) rotate(-90)" font-size="14.3" text-anchor="middle" textLength="14.56" lengthAdjust="spacingAndGlyphs">40</text>
<line x1="56.9" y1="489.4" x2="65.5" y2="489.4" stroke="#000" stroke-width="1" shape-rendering="crispEdges"/>
<text transform="translate(47.3,489.4) rotate(-90)" font-size="14.3" text-anchor="middle" textLength="14.56" lengthAdjust="spacingAndGlyphs">50</text>
<path d="M72 709 L170 709 L184 708.2 L200 707.2 L210 705.8 L228 705.6 L236 701 L244 696 L250 693 L256 691 L260 687 L262 683 L266 679.5 L270 675 L272 672.5 L275 666.5 L278 659 L280.25 651.5 L281.75 641 L282.5 630.5 L284 621.5 L285.2 618.5 L286.25 617.6 L287.2 618.5 L287.75 621.5 L289.25 632 L290.75 642.5 L292.25 651.5 L293.75 659 L296 668 L299 674.75 L302.75 680 L306 684 L312 688 L320 694 L330 699 L340 700.6 L348 704 L360 706.4 L384 707.2 L410 708.4 L440 708.6 L447 708.6 L447.5 707.6 L448 708.6 L500 708.6 L559.75 708.6" fill="none" stroke="#228B22" stroke-width="2" stroke-linejoin="round" shape-rendering="crispEdges"/>
<path d="M84 709.6 L189.5 709.6 L190 708.6 L192 708.6 L192.5 709.6 L209.5 709.6 L210 708.6 L212 708.6 L212.5 709.6 L226.5 709.6 L227 708.6 L229 708.6 L229.5 709.6 L238.5 709.6 L239 708.6 L242 708.6 L242.5 709.6 L245.5 709.6 L246 708.6 L254 708.4 L258 706 L264 701 L268 699 L271 690 L274 674 L275 671 L277.25 660.5 L278.3 645.5 L279.2 624.5 L280.25 606.5 L281.45 588.5 L282.2 575 L283.25 560 L283.25 536.5 L284.75 503.5 L285.5 484 L286.7 479.2 L287.75 484 L288.5 496 L289.55 517 L290.45 540.25 L291.5 559 L292.25 575 L293.3 590 L294.5 608 L295.55 627.5 L296.75 647 L298.25 663.5 L299.45 677 L300.2 680 L300.6 683 L303 694 L307 704 L310 706 L313 709.6 L315.5 709.6 L316 708.6 L332 708.6 L332.5 709.6 L334.5 709.6 L335 708.6 L338 708.6 L338.5 709.6 L351.5 709.6 L352 708.6 L354 707.8 L355 708.6 L355.5 709.6 L420 709.6" fill="none" stroke="#FFA500" stroke-width="1" stroke-linejoin="round" shape-rendering="crispEdges"/>
<line x1="66" y1="709.5" x2="566" y2="709.5" stroke="#BEBEBE" stroke-width="1" shape-rendering="crispEdges"/>
<rect x="65.5" y="465.5" width="195" height="48" fill="#fff" stroke="#000" shape-rendering="crispEdges"/>
<line x1="77" y1="481" x2="102" y2="481" stroke="#228B22" stroke-width="2" shape-rendering="crispEdges"/>
<line x1="77" y1="497.5" x2="102" y2="497.5" stroke="#FFA500" stroke-width="1" shape-rendering="crispEdges"/>
<text x="113.3" y="487" font-size="13.6" text-anchor="start" textLength="138" lengthAdjust="spacingAndGlyphs">CXDO return distribution</text>
<text x="113.3" y="503" font-size="13.6" text-anchor="start" textLength="140" lengthAdjust="spacingAndGlyphs">GSPC return distribution</text>
</g>
<g>
<text x="914.5" y="439.5" font-size="16" text-anchor="middle" font-weight="bold" textLength="390" lengthAdjust="spacingAndGlyphs">CXDO versus S&amp;P500 return frequency distribution</text>
<line x1="656.9" y1="716.4" x2="665.5" y2="716.4" stroke="#000" stroke-width="1" shape-rendering="crispEdges"/>
<text transform="translate(647.3,716.4) rotate(-90)" font-size="14.3" text-anchor="middle">0</text>
<line x1="656.9" y1="672.4" x2="665.5" y2="672.4" stroke="#000" stroke-width="1" shape-rendering="crispEdges"/>
<text transform="translate(647.3,672.4) rotate(-90)" font-size="14.3" text-anchor="middle" textLength="21.84" lengthAdjust="spacingAndGlyphs">200</text>
<line x1="656.9" y1="628.4" x2="665.5" y2="628.4" stroke="#000" stroke-width="1" shape-rendering="crispEdges"/>
<text transform="translate(647.3,628.4) rotate(-90)" font-size="14.3" text-anchor="middle" textLength="21.84" lengthAdjust="spacingAndGlyphs">400</text>
<line x1="656.9" y1="584.4" x2="665.5" y2="584.4" stroke="#000" stroke-width="1" shape-rendering="crispEdges"/>
<text transform="translate(647.3,584.4) rotate(-90)" font-size="14.3" text-anchor="middle" textLength="21.84" lengthAdjust="spacingAndGlyphs">600</text>
<line x1="656.9" y1="540.4" x2="665.5" y2="540.4" stroke="#000" stroke-width="1" shape-rendering="crispEdges"/>
<text transform="translate(647.3,540.4) rotate(-90)" font-size="14.3" text-anchor="middle" textLength="21.84" lengthAdjust="spacingAndGlyphs">800</text>
<line x1="656.9" y1="496.4" x2="665.5" y2="496.4" stroke="#000" stroke-width="1" shape-rendering="crispEdges"/>
<text transform="translate(647.3,496.4) rotate(-90)" font-size="14.3" text-anchor="middle" textLength="29.12" lengthAdjust="spacingAndGlyphs">1000</text>
<g stroke="#000" stroke-width="1" shape-rendering="crispEdges">
<rect x="683" y="715.2" width="5.24" height="1.8" fill="#000" stroke="none"/>
<rect x="688.24" y="716" width="5.24" height="1" fill="#000" stroke="none"/>
<rect x="698.72" y="716" width="5.24" height="1" fill="#000" stroke="none"/>
<rect x="703.96" y="716" width="5.24" height="1" fill="#000" stroke="none"/>
<rect x="714.44" y="715.2" width="5.24" height="1.8" fill="#000" stroke="none"/>
<rect x="719.68" y="716" width="5.24" height="1" fill="#000" stroke="none"/>
<rect x="730.16" y="715.2" width="5.24" height="1.8" fill="#000" stroke="none"/>
<rect x="735.4" y="716" width="5.24" height="1" fill="#000" stroke="none"/>
<rect x="745.88" y="715.2" width="5.24" height="1.8" fill="#000" stroke="none"/>
<rect x="751.12" y="716" width="5.24" height="1" fill="#000" stroke="none"/>
<rect x="761.6" y="715.2" width="5.24" height="1.8" fill="#000" stroke="none"/>
<rect x="766.84" y="716" width="5.24" height="1" fill="#000" stroke="none"/>
<rect x="777.32" y="714.52" width="5.24" height="1.98" fill="#0000FF"/>
<rect x="782.56" y="715.2" width="5.24" height="1.8" fill="#000" stroke="none"/>
<rect x="793.04" y="713.42" width="5.24" height="3.08" fill="#0000FF"/>
<rect x="798.28" y="715.2" width="5.24" height="1.8" fill="#000" stroke="none"/>
<rect x="808.76" y="711.44" width="5.24" height="5.06" fill="#0000FF"/>
<rect x="814" y="715.2" width="5.24" height="1.8" fill="#000" stroke="none"/>
<rect x="824.48" y="708.36" width="5.24" height="8.14" fill="#0000FF"/>
<rect x="829.72" y="715.2" width="5.24" height="1.8" fill="#000" stroke="none"/>
<rect x="840.2" y="690.32" width="5.24" height="26.18" fill="#0000FF"/>
<rect x="845.44" y="714.52" width="5.24" height="1.98" fill="#FFFF00"/>
<rect x="855.92" y="671.18" width="5.24" height="45.32" fill="#0000FF"/>
<rect x="861.16" y="705.5" width="5.24" height="11" fill="#FFFF00"/>
<rect x="871.64" y="632.24" width="5.24" height="84.26" fill="#0000FF"/>
<rect x="876.88" y="587.58" width="5.24" height="128.92" fill="#FFFF00"/>
<rect x="887.36" y="578.34" width="5.24" height="138.16" fill="#0000FF"/>
<rect x="892.6" y="465.5" width="5.24" height="251" fill="#FFFF00"/>
<rect x="903.08" y="672.5" width="5.24" height="44" fill="#0000FF"/>
<rect x="908.32" y="703.52" width="5.24" height="12.98" fill="#FFFF00"/>
<rect x="918.8" y="692.52" width="5.24" height="23.98" fill="#0000FF"/>
<rect x="924.04" y="714.52" width="5.24" height="1.98" fill="#FFFF00"/>
<rect x="934.52" y="701.32" width="5.24" height="15.18" fill="#0000FF"/>
<rect x="939.76" y="715.2" width="5.24" height="1.8" fill="#000" stroke="none"/>
<rect x="950.24" y="710.34" width="5.24" height="6.16" fill="#0000FF"/>
<rect x="955.48" y="715.2" width="5.24" height="1.8" fill="#000" stroke="none"/>
<rect x="965.96" y="712.32" width="5.24" height="4.18" fill="#0000FF"/>
<rect x="971.2" y="715.2" width="5.24" height="1.8" fill="#000" stroke="none"/>
<rect x="981.68" y="713.42" width="5.24" height="3.08" fill="#0000FF"/>
<rect x="986.92" y="716" width="5.24" height="1" fill="#000" stroke="none"/>
<rect x="997.4" y="715.4" width="5.24" height="1.1" fill="#0000FF"/>
<rect x="1002.64" y="716" width="5.24" height="1" fill="#000" stroke="none"/>
<rect x="1013.12" y="715.62" width="5.24" height="0.88" fill="#0000FF"/>
<rect x="1018.36" y="716" width="5.24" height="1" fill="#000" stroke="none"/>
<rect x="1028.84" y="715.62" width="5.24" height="0.88" fill="#0000FF"/>
<rect x="1034.08" y="716" width="5.24" height="1" fill="#000" stroke="none"/>
<rect x="1044.56" y="715.2" width="5.24" height="1.8" fill="#000" stroke="none"/>
<rect x="1049.8" y="716" width="5.24" height="1" fill="#000" stroke="none"/>
<rect x="1060.28" y="716" width="5.24" height="1" fill="#000" stroke="none"/>
<rect x="1065.52" y="716" width="5.24" height="1" fill="#000" stroke="none"/>
<rect x="1076" y="716" width="5.24" height="1" fill="#000" stroke="none"/>
<rect x="1081.24" y="716" width="5.24" height="1" fill="#000" stroke="none"/>
<rect x="1091.72" y="716" width="5.24" height="1" fill="#000" stroke="none"/>
<rect x="1096.96" y="716" width="5.24" height="1" fill="#000" stroke="none"/>
<rect x="1107.44" y="715.62" width="5.24" height="0.88" fill="#0000FF"/>
<rect x="1112.68" y="716" width="5.24" height="1" fill="#000" stroke="none"/>
<rect x="1123.16" y="716" width="5.24" height="1" fill="#000" stroke="none"/>
<rect x="1128.4" y="716" width="5.24" height="1" fill="#000" stroke="none"/>
<rect x="1138.88" y="716" width="5.24" height="1" fill="#000" stroke="none"/>
<rect x="1144.12" y="716" width="5.24" height="1" fill="#000" stroke="none"/>
</g>
<rect x="665.5" y="465.5" width="501.0" height="253.0" fill="none" stroke="#000" stroke-width="1" shape-rendering="crispEdges"/>
<text x="689.44" y="748" font-size="13.6" text-anchor="middle" textLength="84.5" lengthAdjust="spacingAndGlyphs">[-0.272,-0.251)</text>
<text x="798.28" y="748" font-size="13.6" text-anchor="middle" textLength="84" lengthAdjust="spacingAndGlyphs">[-0.127,-0.106)</text>
<text x="908.32" y="748" font-size="13.6" text-anchor="middle" textLength="89.5" lengthAdjust="spacingAndGlyphs">[0.0188,0.0395)</text>
<text x="1017.16" y="748" font-size="13.6" text-anchor="middle" textLength="76" lengthAdjust="spacingAndGlyphs">[0.164,0.185)</text>
<text x="1111.48" y="748" font-size="13.6" text-anchor="middle" textLength="76" lengthAdjust="spacingAndGlyphs">[0.289,0.309)</text>
<text x="914.2" y="779.8" font-size="13.6" text-anchor="middle" textLength="32" lengthAdjust="spacingAndGlyphs">return</text>
<text transform="translate(615.2,592.9) rotate(-90)" font-size="14.3" text-anchor="middle" textLength="56" lengthAdjust="spacingAndGlyphs">frequency</text>
<rect x="993.5" y="465.5" width="173" height="48" fill="#fff" stroke="#000" shape-rendering="crispEdges"/>
<rect x="1005.5" y="477.5" width="9" height="8" fill="#0000FF" stroke="#000" shape-rendering="crispEdges"/>
<rect x="1005.5" y="493.5" width="9" height="8" fill="#FFFF00" stroke="#000" shape-rendering="crispEdges"/>
<text x="1026.3" y="486.7" font-size="13.6" text-anchor="start" textLength="131" lengthAdjust="spacingAndGlyphs">CXDO return frequency</text>
<text x="1026.3" y="502.7" font-size="13.6" text-anchor="start" textLength="133" lengthAdjust="spacingAndGlyphs">GSPC return frequency</text>
</g>
</svg>
</body></html>
